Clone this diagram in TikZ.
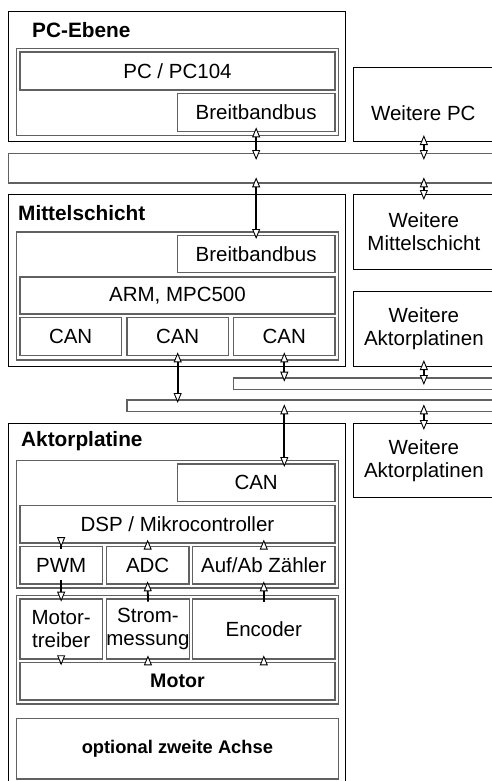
\documentclass[tikz,border=0pt]{standalone}
\usepackage{fontspec}
\setmainfont{Liberation Sans}
\usetikzlibrary{arrows.meta}
\tikzset{
  outerbox/.style={draw=black, line width=1pt, inner sep=0pt, font=\fontsize{20.5}{23}\selectfont, align=center},
  innerbox/.style={draw=black!62, line width=1.3pt, inner sep=0pt, font=\fontsize{20.5}{23}\selectfont, align=center},
  framebox/.style={draw=black!62, line width=1.3pt, inner sep=0pt},
  busbar/.style={draw=black!62, line width=1.3pt, inner sep=0pt},
  title/.style={font=\bfseries\fontsize{20.8}{23}\selectfont, inner sep=0pt, anchor=base west},
  txt/.style={font=\fontsize{20.5}{23}\selectfont, align=center, inner sep=0pt},
  conn/.style={arrows={Triangle[length=10pt, width=8pt, line width=0.9pt, fill=white]-Triangle[length=10pt, width=8pt, line width=0.9pt, fill=white]}, line width=1.8pt},
  one/.style={arrows={-Triangle[length=10pt, width=8pt, line width=0.9pt, fill=white]}, line width=1.8pt},
}
\newcommand\bx[7]{\node[#2, anchor=north west, minimum width={#5-#3}, minimum height={#6-#4}] (#1) at (#3,#4) {#7};}
\begin{document}
\begin{tikzpicture}[x=1pt, y=-1pt]
\useasboundingbox (0,0) rectangle (491,781);
% outer boxes and bus bars
\bx{pce}{outerbox}{8}{11}{345}{141.3}{}
\bx{wpc}{outerbox}{352.7}{66.7}{494}{141.3}{}
\node[txt] (wpct) at (423.3,113) {Weitere PC};
\bx{bus1}{busbar}{8}{152.7}{500}{182.3}{}
\bx{mit}{outerbox}{8}{194}{345}{366}{}
\bx{wm}{outerbox}{352.7}{194}{494}{268.7}{Weitere\\Mittelschicht}
\bx{wa1}{outerbox}{352.7}{291.3}{494}{366}{Weitere\\Aktorplatinen}
\bx{bus2}{busbar}{233}{377.3}{500}{389}{}
\bx{bus3}{busbar}{126.3}{399.3}{500}{410.7}{}
\bx{akt}{outerbox}{8}{422.7}{345}{800}{}
\bx{wa2}{outerbox}{352.7}{422.7}{494}{496.7}{Weitere\\Aktorplatinen}
% titles
\node[title] (t1) at (32,37.5) {PC-Ebene};
\node[title] (t2) at (18,220) {Mittelschicht};
\node[title] (t3) at (21,446.7) {Aktorplatine};
% PC level
\bx{f1}{framebox}{15.7}{47.7}{337.7}{134.7}{}
\bx{pc}{innerbox}{19.3}{51.3}{334.3}{89.3}{PC / PC104}
\bx{bb1}{innerbox}{176.7}{92.7}{334.3}{130.7}{Breitbandbus}
% middle layer
\bx{f2}{framebox}{15.7}{231.3}{337.7}{359.3}{}
\bx{bb2}{innerbox}{176.7}{235}{334.3}{272}{Breitbandbus}
\bx{arm}{innerbox}{19.3}{276.3}{334.3}{313.3}{ARM, MPC500}
\bx{can1}{innerbox}{19.3}{317}{120.7}{355}{CAN}
\bx{can2}{innerbox}{126.3}{317}{227.7}{355}{CAN}
\bx{can3}{innerbox}{233}{317}{334.3}{355}{CAN}
% actuator board
\bx{f3}{framebox}{15.7}{460}{337.7}{587.3}{}
\bx{can4}{innerbox}{176.7}{463.3}{334.3}{500.7}{CAN}
\bx{dsp}{innerbox}{19.3}{504.7}{334.3}{542.3}{DSP / Mikrocontroller}
\bx{pwm}{innerbox}{19.3}{545.7}{101.7}{583.3}{PWM}
\bx{adc}{innerbox}{105.7}{545.7}{188.3}{583.3}{ADC}
\bx{auf}{innerbox}{192}{545.7}{334.3}{583.3}{Auf/Ab Zähler}
\bx{f4}{framebox}{15.7}{594.7}{337.7}{703.3}{}
\bx{mtr}{innerbox}{19.3}{598.3}{101.7}{658.3}{Motor-\\treiber}
\bx{strom}{innerbox}{105.7}{598.3}{188.3}{658.3}{Strom-\\messung}
\bx{enc}{innerbox}{192}{598.3}{334.3}{658.3}{Encoder}
\bx{motor}{innerbox}{19.3}{662}{334.3}{699.3}{\fontsize{19.6}{22}\selectfont\bfseries Motor}
\bx{opt}{innerbox}{15.7}{718}{337.7}{778.3}{\fontsize{18.3}{21}\selectfont\bfseries optional zweite Achse}
% bus connectors
\draw[conn, shorten <=-4.7pt, shorten >=-7.3pt] (bb1.south) -- (bus1.north -| bb1.south);
\draw[conn, shorten <=-6.3pt, shorten >=-4pt] (bus1.south -| bb2.north) -- (bb2.north);
\draw[conn, shorten <=-7.3pt, shorten >=-7.3pt] (wpc.south) -- (bus1.north -| wpc.south);
\draw[conn, shorten <=-6.3pt, shorten >=-6pt] (bus1.south -| wm.north) -- (wm.north);
\draw[conn, shorten <=-4pt, shorten >=-3.7pt] (can2.south) -- (bus3.north -| can2.south);
\draw[conn, shorten <=-4pt, shorten >=-4.4pt] (can3.south) -- (bus2.north -| can3.south);
\draw[conn, shorten <=-7pt, shorten >=-7.7pt] (wa1.south) -- (bus2.north -| wa1.south);
\draw[conn, shorten <=-7.7pt, shorten >=-3.7pt] (bus3.south -| can3.south) -- (can4.north -| can3.south);
\draw[conn, shorten <=-7.7pt, shorten >=-7.3pt] (bus3.south -| wa2.north) -- (wa2.north);
% board internal connectors
\draw[one, shorten <=-5pt, shorten >=-1.5pt] (dsp.south -| pwm.north) -- (pwm.north);
\draw[one, shorten <=-2pt, shorten >=-4pt] (adc.north) -- (dsp.south -| adc.north);
\draw[one, shorten <=-2pt, shorten >=-4pt] (auf.north) -- (dsp.south -| auf.north);
\draw[one, shorten <=-4.3pt, shorten >=-3.4pt] (pwm.south) -- (mtr.north);
\draw[one, shorten <=-3.4pt, shorten >=-3.3pt] (strom.north) -- (adc.south);
\draw[one, shorten <=-3.4pt, shorten >=-3.3pt] (enc.north) -- (auf.south);
\draw[one, shorten <=-4.3pt, shorten >=-3.3pt] (mtr.south) -- (motor.north -| mtr.south);
\draw[one, shorten <=-3.3pt, shorten >=-4.3pt] (motor.north -| strom.south) -- (strom.south);
\draw[one, shorten <=-3.3pt, shorten >=-4.3pt] (motor.north -| enc.south) -- (enc.south);
\end{tikzpicture}
\end{document}
